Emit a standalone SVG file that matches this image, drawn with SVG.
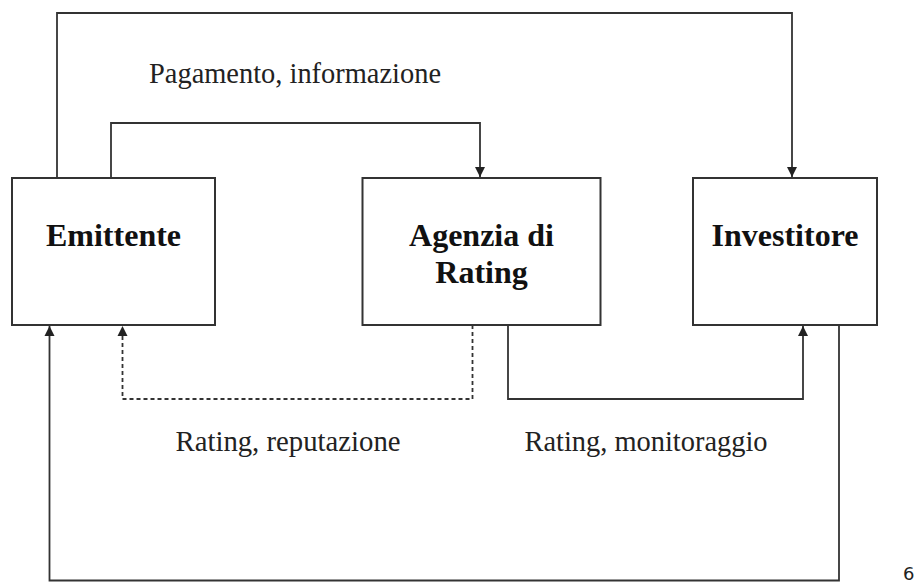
<svg xmlns="http://www.w3.org/2000/svg" width="917" height="583" viewBox="0 0 917 583">
<style>
.box{fill:#fff;stroke:#333;stroke-width:2}
.ln{fill:none;stroke:#333;stroke-width:1.8}
.dash{stroke-dasharray:4 3}
.lbl{font-family:"Liberation Serif","Times New Roman",serif;font-size:28.5px;fill:#222}
.nt{font-family:"Liberation Serif","Times New Roman",serif;font-size:32px;font-weight:bold;fill:#111;text-anchor:middle}
</style>
<defs>
<marker id="arr" markerUnits="userSpaceOnUse" markerWidth="10" markerHeight="12" viewBox="0 0 10 12" refX="10" refY="6" orient="auto">
<path d="M0,1 L10,6 L0,11 z" fill="#222"/>
</marker>
</defs>
<rect width="917" height="583" fill="#fff"/>
<g id="connectors">
<path class="ln" d="M57,178 V13 H792 V177" marker-end="url(#arr)"/>
<path class="ln" d="M111,178 V123 H480 V177" marker-end="url(#arr)"/>
<path class="ln" d="M839,325 V580.5 H49.5 V326" marker-end="url(#arr)"/>
<path class="ln dash" d="M472.5,325 V399 H122.5 V326" marker-end="url(#arr)"/>
<path class="ln" d="M508,325 V399 H803 V326" marker-end="url(#arr)"/>
</g>
<g id="labels">
<text class="lbl" x="149" y="83" textLength="292" lengthAdjust="spacingAndGlyphs">Pagamento, informazione</text>
<text class="lbl" x="175.5" y="450.5" textLength="225" lengthAdjust="spacingAndGlyphs">Rating, reputazione</text>
<text class="lbl" x="524.5" y="450.5" textLength="243" lengthAdjust="spacingAndGlyphs">Rating, monitoraggio</text>
</g>
<g id="emittente">
<rect class="box" x="12" y="178" width="203" height="147"/>
<text class="nt" x="113.5" y="246">Emittente</text>
</g>
<g id="agenzia">
<rect class="box" x="362.5" y="178" width="238" height="147"/>
<text class="nt" x="481.5" y="246">Agenzia di</text>
<text class="nt" x="481.5" y="283">Rating</text>
</g>
<g id="investitore">
<rect class="box" x="693" y="178" width="184" height="147"/>
<text class="nt" x="785" y="246">Investitore</text>
</g>
<text x="903" y="580" font-family="'DejaVu Sans',sans-serif" font-size="18" fill="#222">6</text>
</svg>
